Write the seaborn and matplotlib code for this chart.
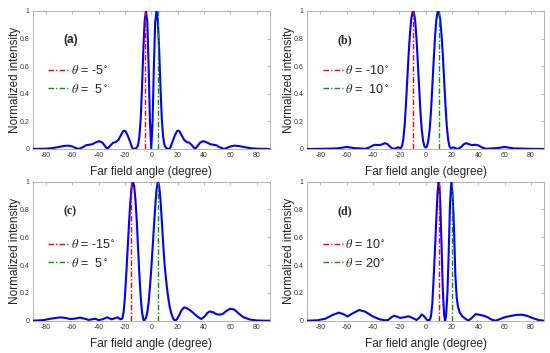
import matplotlib
matplotlib.use("Agg")
import matplotlib.pyplot as plt
from matplotlib.ticker import FormatStrFormatter
import seaborn as sns

# -----------------------------
# Data
# -----------------------------
angles_a = [-90, -80, -75, -70, -66, -63, -60, -57.5, -55.3, -52, -49.5, -47.5,
            -45, -42, -39.5, -37, -35, -33.3, -31, -29, -27, -25, -23, -21.5,
            -20.5, -19.5, -18, -16, -14.5, -13.5, -12, -11, -10, -9, -8, -7,
            -6, -5, -4, -3, -2, -1, 0,
            1, 2, 3, 4, 5, 6, 7, 8, 9, 10, 11, 12, 13.5, 14.5, 16, 18, 19.5,
            20.5, 21.5, 23, 25, 27, 29, 31, 33.3, 35, 37, 39.5, 42, 45, 47.5,
            49.5, 52, 55.3, 57.5, 60, 63, 66, 70, 75, 80, 90]
intensity_a = [0.0, 0.002, 0.006, 0.015, 0.022, 0.024, 0.018, 0.008, 0.0, 0.012, 0.027, 0.03,
               0.034, 0.048, 0.057, 0.045, 0.02, 0.0, 0.025, 0.045, 0.05, 0.065, 0.1, 0.128,
               0.133, 0.128, 0.1, 0.05, 0.01, 0.0, 0.003, 0.01, 0.03, 0.09, 0.22, 0.45,
               0.72, 0.93, 1.0, 0.92, 0.6, 0.2, 0.0,
               0.2, 0.6, 0.92, 1.0, 0.93, 0.72, 0.45, 0.22, 0.09, 0.03, 0.01, 0.003, 0.0, 0.01, 0.05, 0.1, 0.128,
               0.133, 0.128, 0.1, 0.065, 0.05, 0.045, 0.025, 0.0, 0.02, 0.045, 0.057, 0.048, 0.034, 0.03,
               0.027, 0.012, 0.0, 0.008, 0.018, 0.024, 0.022, 0.015, 0.006, 0.002, 0.0]

angles_b = [-90, -80, -72, -67, -63, -60, -57, -54, -50, -46, -43, -40, -38, -35,
            -33, -31, -29, -27, -24.5, -23, -21, -19, -18, -17, -16, -15, -14,
            -13, -12, -11, -10, -9.5, -9, -8, -7, -6, -5, -4, -3, -2, -1, 0,
            1, 2, 3, 4, 5, 6, 7, 8, 9, 9.5, 10, 11, 12, 13, 14, 15, 16, 17,
            18, 19, 21, 23, 24.5, 27, 29, 31, 33, 35, 38, 40, 43, 46, 50, 54,
            57, 60, 63, 67, 72, 80, 90]
intensity_b = [0.0, 0.001, 0.003, 0.004, 0.01, 0.015, 0.01, 0.006, 0.004, 0.001, 0.01, 0.026, 0.03, 0.028,
               0.034, 0.042, 0.035, 0.015, 0.0, 0.004, 0.012, 0.005, 0.02, 0.07, 0.17, 0.32, 0.5,
               0.68, 0.83, 0.94, 0.99, 1.0, 0.99, 0.93, 0.8, 0.63, 0.45, 0.27, 0.14, 0.06, 0.02, 0.01,
               0.02, 0.06, 0.14, 0.27, 0.45, 0.63, 0.8, 0.93, 0.99, 1.0, 0.99, 0.94, 0.83, 0.68, 0.5, 0.32, 0.17, 0.07,
               0.02, 0.005, 0.012, 0.004, 0.0, 0.015, 0.035, 0.042, 0.034, 0.028, 0.03, 0.026, 0.01, 0.001, 0.004, 0.006,
               0.01, 0.015, 0.01, 0.004, 0.003, 0.001, 0.0]

angles_c = [-90, -82, -76, -69, -65, -61.5, -58, -54, -50, -47.5, -45, -42.5,
            -40, -37, -33.5, -30, -27.5, -25.5, -23.5, -22, -21, -20, -19, -18,
            -17, -16, -15, -14, -13, -12, -11, -10, -9, -8, -7, -6, -5.5, -5,
            -4, -3, -2, -1, 0, 1, 2, 3, 4, 5, 6, 7, 8, 9, 10, 11, 12, 13, 14,
            15, 16, 17, 18, 19.5, 21, 23, 25, 27, 29.5, 32, 35, 38, 40.5, 42.5,
            44.5, 47, 49.5, 52, 54.5, 57, 60, 63, 66, 70, 75, 80, 85, 90]
intensity_c = [0.0, 0.004, 0.015, 0.024, 0.02, 0.012, 0.015, 0.022, 0.013, 0.005, 0.01, 0.014,
               0.004, 0.01, 0.024, 0.01, 0.018, 0.024, 0.01, 0.015, 0.06, 0.17, 0.33, 0.5,
               0.68, 0.84, 0.95, 1.0, 0.97, 0.87, 0.72, 0.52, 0.33, 0.17, 0.06, 0.01, 0.0, 0.005,
               0.02, 0.06, 0.13, 0.24, 0.37, 0.52, 0.67, 0.82, 0.94, 1.0, 0.97, 0.87, 0.72, 0.56, 0.42, 0.32, 0.23, 0.16, 0.1,
               0.06, 0.03, 0.01, 0.0, 0.01, 0.035, 0.075, 0.096, 0.09, 0.075, 0.055, 0.03, 0.012, 0.03, 0.055,
               0.067, 0.06, 0.047, 0.043, 0.05, 0.07, 0.086, 0.08, 0.055, 0.025, 0.008, 0.002, 0.0, 0.0]

angles_d = [-90, -82, -76, -71, -66, -62, -59.5, -56, -50.5, -46, -40, -35, -31,
            -28.5, -26, -24, -21.5, -19.5, -16, -13, -10, -7, -5, -3, -1, 1, 2.5,
            3, 4, 5, 6, 7, 8, 9, 9.8, 10.5, 11, 12, 13, 14, 14.8, 15.5, 16.5,
            17.5, 18.5, 19.5, 20.5, 21.5, 22.5, 23.5, 24.5, 26, 28, 30, 32.4, 35,
            38, 41, 44, 47, 50, 53, 56, 60, 65, 69, 73, 77, 81, 85.5, 90]
intensity_d = [0.0, 0.003, 0.015, 0.04, 0.058, 0.045, 0.03, 0.05, 0.077, 0.065, 0.03, 0.01, 0.003,
               0.005, 0.025, 0.036, 0.028, 0.02, 0.025, 0.032, 0.02, 0.005, 0.02, 0.045, 0.03, 0.005, 0.0,
               0.005, 0.03, 0.12, 0.3, 0.5, 0.72, 0.92, 1.0, 0.96, 0.86, 0.55, 0.22, 0.04, 0.0, 0.04, 0.2,
               0.5, 0.85, 1.0, 0.9, 0.66, 0.33, 0.17, 0.1, 0.055, 0.03, 0.015, 0.0, 0.02,
               0.048, 0.042, 0.036, 0.025, 0.008, 0.0, 0.01, 0.025, 0.035, 0.042, 0.043, 0.035, 0.02, 0.005, 0.0]

# steering angles of the two beams
theta_a = [-5, 5]
theta_b = [-10, 10]
theta_c = [-15, 5]
theta_d = [10, 20]

labels_a = [r'$\theta$ = -5$^\circ$', r'$\theta$ =  5$^\circ$']
labels_b = [r'$\theta$ = -10$^\circ$', r'$\theta$ =  10$^\circ$']
labels_c = [r'$\theta$ = -15$^\circ$', r'$\theta$ =  5$^\circ$']
labels_d = [r'$\theta$ = 10$^\circ$', r'$\theta$ = 20$^\circ$']

panel_tags = ['(a)', '(b)', '(c)', '(d)']
x_ticks = [-80, -60, -40, -20, 0, 20, 40, 60, 80]
y_ticks = [0, 0.2, 0.4, 0.6, 0.8, 1]

# -----------------------------
# Style
# -----------------------------
sns.set_style('white')
plt.rcParams['font.family'] = ['Liberation Sans', 'DejaVu Sans']
plt.rcParams['mathtext.fontset'] = 'stix'
plt.rcParams['axes.unicode_minus'] = False

fig = plt.figure(figsize=(5.5, 3.53), dpi=100)
rects = [[0.0595, 0.578, 0.431, 0.391],
         [0.5585, 0.578, 0.431, 0.391],
         [0.0595, 0.0915, 0.431, 0.394],
         [0.5585, 0.0915, 0.431, 0.394]]

panels = [(angles_a, intensity_a, theta_a, labels_a),
          (angles_b, intensity_b, theta_b, labels_b),
          (angles_c, intensity_c, theta_c, labels_c),
          (angles_d, intensity_d, theta_d, labels_d)]

dashdot = (0, (4, 1.5, 1, 1.5))

for i, (ang, inten, th, lab) in enumerate(panels):
    ax = fig.add_axes(rects[i])
    sns.lineplot(x=ang, y=inten, ax=ax, color='#0000ff', linewidth=1.5, zorder=3)
    ax.axvline(th[0], 0, 1, color='#ff0000', ls=dashdot, lw=1.0, zorder=4, label=lab[0])
    ax.axvline(th[1], 0, 1, color='#009900', ls=dashdot, lw=1.0, zorder=4, label=lab[1])

    ax.set_xlim(-90, 90)
    ax.set_ylim(0, 1)
    ax.set_xticks(x_ticks)
    ax.set_yticks(y_ticks)
    ax.yaxis.set_major_formatter(FormatStrFormatter('%g'))
    ax.tick_params(direction='in', length=2, width=0.5, top=True, right=True,
                   labelsize=5, color='#999999', labelcolor='#333333', pad=2.5)
    for sp in ax.spines.values():
        sp.set_color('#a6a6a6')
        sp.set_linewidth(0.6)

    ax.set_xlabel('Far field angle (degree)', fontsize=8.5, color='#262626', labelpad=5)
    ax.set_ylabel('Normalized intensity', fontsize=8.5, color='#262626', labelpad=-1)

    leg_y = 0.5 if i < 2 else 0.48
    ax.legend(loc='center left', bbox_to_anchor=(0.045, leg_y), frameon=False,
              fontsize=9, handlelength=1.6, handletextpad=0.2, borderaxespad=0,
              labelspacing=0.45)

    if i == 0:
        ax.text(0.128, 0.79, panel_tags[i], transform=ax.transAxes, va='center',
                fontsize=8.5, fontweight='bold')
    else:
        ax.text(0.128, 0.79, panel_tags[i], transform=ax.transAxes, va='center',
                fontsize=8.5, fontweight='bold', family='Liberation Serif')

plt.savefig('out.png', dpi=100)
